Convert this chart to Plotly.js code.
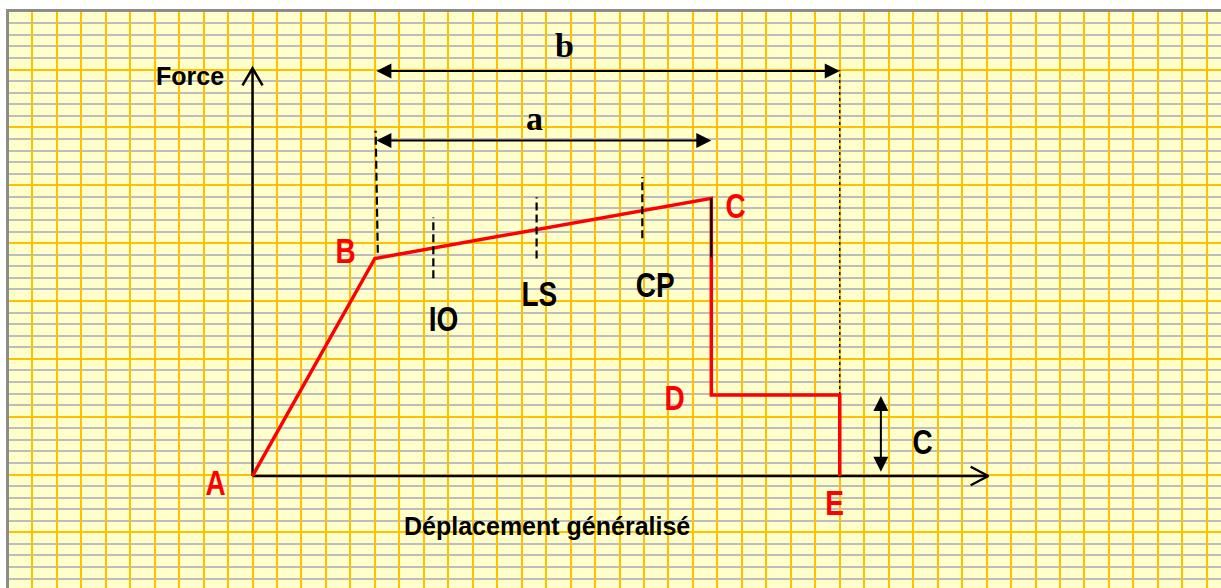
<!DOCTYPE html>
<html>
<head>
<meta charset="utf-8">
<script src="https://cdn.plot.ly/plotly-3.0.1.min.js"></script>
<style>
  html, body { margin: 0; padding: 0; background: #ffffff; }
  #chart { width: 1221px; height: 588px; }
</style>
</head>
<body>
<div id="chart"></div>
<script>
// units : one grid column in x, one grey grid row in y, origin at A

// force-displacement curve A-B-C-D-E
var pointNames = ['A', 'B', 'C', 'D', 'E'];
var curveX = [0, 5, 18.75, 18.75, 24, 24];
var curveY = [0, 18.8, 24, 7, 7, 0];

// performance levels along B-C
var levelNames = ['IO', 'LS', 'CP'];
var levelX = [7.39, 11.61, 15.93];
var levelLow = [17.1, 18.8, 20.55];
var levelHigh = [22.35, 24.1, 25.85];

// yield mark at B (dashed) and ends of the axes
var yieldX = [5.12, 5.03];
var yieldY = [19.3, 29.85];
var axisTipX = 30.07;
var axisTipY = 35.24;

// dimension arrows a, b and the residual strength c
var spanA = [5, 18.75];
var spanB = [5, 24];
var residual = [0.24, 6.92];

var black = '#000000';
var red = '#FF0000';
var narrow = 'Liberation Sans Narrow, Arial Narrow, Liberation Sans, Arial, sans-serif';
var sans = 'Liberation Sans, Arial, sans-serif';
var serif = 'Liberation Serif, Times New Roman, serif';

function seg(x, y, color, width, dash) {
  return {
    x: x, y: y, type: 'scatter', mode: 'lines',
    line: {color: color, width: width, dash: dash || 'solid'},
    hoverinfo: 'skip', showlegend: false
  };
}

var traces = [];

// axes with open heads
var hx = 0.41, hy = 1.47;   // head of the force axis
var vx = 0.72, vy = 0.8;    // head of the displacement axis
traces.push(seg([0, 0, null, -hx, 0, hx], [0, axisTipY, null, axisTipY - hy, axisTipY, axisTipY - hy], black, 2.5));
traces.push(seg([0, axisTipX, null, axisTipX - vx, axisTipX, axisTipX - vx], [0, 0, null, vy, 0, -vy], black, 2.5));

// dotted limit line at E
traces.push(seg([curveX[4], curveX[4]], [curveY[4], 35.1], black, 1.3, 'dot'));

// curve
traces.push(seg(curveX, curveY, red, 3.5));
traces.push(seg([curveX[2], curveX[2]], [curveY[2], 18.9], black, 2));

// dashed marks
traces.push(seg(yieldX, yieldY, black, 2.2, '8px,4px'));
for (var i = 0; i < levelX.length; i++) {
  traces.push(seg([levelX[i], levelX[i]], [levelLow[i], levelHigh[i]], black, 2.2, '8px,4px'));
}

function txt(x, y, s, color, family, size) {
  return {
    x: x, y: y, text: s, showarrow: false, xanchor: 'center', yanchor: 'middle',
    font: {family: family, size: size, color: color, weight: 'bold'}
  };
}

function dimArrow(x0, y0, x1, y1) {
  return {
    x: x1, y: y1, ax: x0, ay: y0, axref: 'x', ayref: 'y', text: '',
    showarrow: true, arrowside: 'end+start', arrowhead: 2, startarrowhead: 2,
    arrowsize: 1.5, startarrowsize: 1.5, arrowwidth: 2, arrowcolor: black,
    standoff: 0, startstandoff: 0
  };
}

var annotations = [
  dimArrow(spanB[0], 35, spanB[1], 35),
  dimArrow(spanA[0], 29, spanA[1], 29),
  dimArrow(25.68, residual[0], 25.68, residual[1]),
  txt(12.77, 37.2, 'b', black, serif, 34),
  txt(11.51, 30.9, 'a', black, serif, 34),
  txt(-2.56, 34.6, 'Force', black, sans, 25),
  txt(12.05, -4.3, 'Déplacement généralisé', black, sans, 25),
  txt(27.4, 3.0, 'C', black, narrow, 35),
  txt(curveX[0] - 1.53, curveY[0] - 0.6, pointNames[0], red, narrow, 35),
  txt(curveX[1] - 1.18, curveY[1] + 0.7, pointNames[1], red, narrow, 35),
  txt(curveX[2] + 1.0, curveY[2] - 0.6, pointNames[2], red, narrow, 35),
  txt(curveX[3] - 1.5, curveY[3] - 0.2, pointNames[3], red, narrow, 35),
  txt(curveX[5] - 0.2, curveY[5] - 2.25, pointNames[4], red, narrow, 35)
];
var levelLabelX = [7.81, 11.73, 16.48];
var levelLabelY = [13.65, 15.75, 16.55];
for (var k = 0; k < levelNames.length; k++) {
  annotations.push(txt(levelLabelX[k], levelLabelY[k], levelNames[k], black, narrow, 35));
}

var layout = {
  width: 1221, height: 588,
  margin: {l: 9, r: 0, t: 12, b: 0, pad: 0},
  paper_bgcolor: '#ffffff',
  plot_bgcolor: '#FFFFCC',
  showlegend: false,
  xaxis: {
    range: [-9.952, 39.58], tick0: 0, dtick: 1,
    showgrid: true, gridcolor: '#FFC000', gridwidth: 2,
    zeroline: false, showticklabels: false, ticks: '',
    showline: true, linecolor: '#8C8C8C', linewidth: 3, side: 'top',
    fixedrange: true
  },
  yaxis: {
    range: [-9.68, 40.107], tick0: 0.13, dtick: 5,
    showgrid: true, gridcolor: '#FFC000', gridwidth: 2,
    minor: {tick0: 0.13, dtick: 1, showgrid: true, gridcolor: '#BDBDBD', gridwidth: 2},
    zeroline: false, showticklabels: false, ticks: '',
    showline: true, linecolor: '#8C8C8C', linewidth: 3,
    fixedrange: true
  },
  annotations: annotations
};

// no narrow font here : squeeze the letter labels like Arial Narrow
var squeezed = pointNames.concat(levelNames);
var gd = document.getElementById('chart');
Plotly.newPlot(gd, traces, layout, {staticPlot: true, displayModeBar: false}).then(function () {
  gd.querySelectorAll('.annotation-text').forEach(function (t) {
    if (squeezed.indexOf(t.textContent) < 0) return;
    var w = t.getComputedTextLength();
    t.setAttribute('textLength', (w * 0.8).toFixed(1));
    t.setAttribute('lengthAdjust', 'spacingAndGlyphs');
  });
});
</script>
</body>
</html>
